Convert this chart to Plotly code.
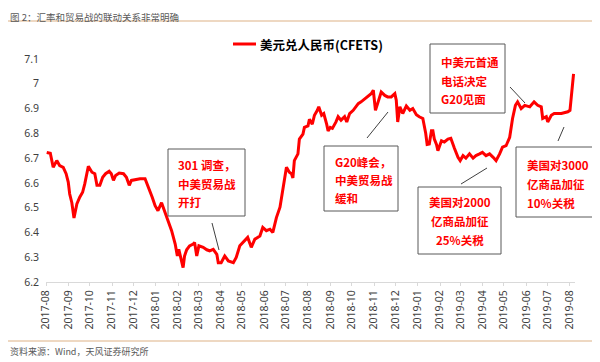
import plotly.graph_objects as go

# ---------------- data ----------------
dates = [
    "2017-08-02", "2017-08-07", "2017-08-11", "2017-08-16", "2017-08-20", "2017-08-25", "2017-08-29",
    "2017-09-01", "2017-09-03", "2017-09-06", "2017-09-09", "2017-09-13", "2017-09-17", "2017-09-21",
    "2017-09-24", "2017-09-27", "2017-09-29", "2017-10-04", "2017-10-08", "2017-10-11", "2017-10-15",
    "2017-10-19", "2017-10-23", "2017-10-28", "2017-10-31", "2017-11-03", "2017-11-06", "2017-11-11",
    "2017-11-17", "2017-11-21", "2017-11-25", "2017-11-28", "2017-12-03", "2017-12-10", "2017-12-17",
    "2017-12-20", "2017-12-24", "2017-12-27", "2017-12-31", "2018-01-04", "2018-01-09", "2018-01-14",
    "2018-01-18", "2018-01-23", "2018-01-28", "2018-01-31", "2018-02-02", "2018-02-06", "2018-02-08",
    "2018-02-10", "2018-02-13", "2018-02-17", "2018-02-22", "2018-02-24", "2018-02-27", "2018-03-02",
    "2018-03-08", "2018-03-13", "2018-03-17", "2018-03-22", "2018-03-27", "2018-03-29", "2018-04-02",
    "2018-04-07", "2018-04-12", "2018-04-19", "2018-04-23", "2018-04-28", "2018-05-05", "2018-05-09",
    "2018-05-14", "2018-05-19", "2018-05-26", "2018-05-30", "2018-06-04", "2018-06-09", "2018-06-13",
    "2018-06-18", "2018-06-23", "2018-06-27", "2018-07-02", "2018-07-06", "2018-07-09", "2018-07-11",
    "2018-07-13", "2018-07-18", "2018-07-20", "2018-07-25", "2018-07-27", "2018-08-01", "2018-08-03",
    "2018-08-07", "2018-08-10", "2018-08-14", "2018-08-16", "2018-08-20", "2018-08-23", "2018-08-27",
    "2018-08-29", "2018-09-01", "2018-09-04", "2018-09-09", "2018-09-12", "2018-09-16", "2018-09-21",
    "2018-09-24", "2018-09-28", "2018-10-03", "2018-10-10", "2018-10-14", "2018-10-19", "2018-10-23",
    "2018-10-28", "2018-10-31", "2018-11-03", "2018-11-06", "2018-11-11", "2018-11-16", "2018-11-20",
    "2018-11-25", "2018-11-30", "2018-12-02", "2018-12-04", "2018-12-07", "2018-12-11", "2018-12-16",
    "2018-12-21", "2018-12-25", "2018-12-30", "2019-01-03", "2019-01-08", "2019-01-12", "2019-01-14",
    "2019-01-17", "2019-01-20", "2019-01-22", "2019-01-24", "2019-01-27", "2019-01-29", "2019-02-03",
    "2019-02-07", "2019-02-12", "2019-02-16", "2019-02-21", "2019-02-26", "2019-03-01", "2019-03-05",
    "2019-03-09", "2019-03-14", "2019-03-19", "2019-03-23", "2019-03-28", "2019-04-01", "2019-04-06",
    "2019-04-11", "2019-04-16", "2019-04-20", "2019-04-25", "2019-04-29", "2019-05-04", "2019-05-09",
    "2019-05-13", "2019-05-17", "2019-05-20", "2019-05-25", "2019-05-30", "2019-06-06", "2019-06-12",
    "2019-06-17", "2019-06-22", "2019-06-24", "2019-06-29", "2019-07-01", "2019-07-06", "2019-07-10",
    "2019-07-20", "2019-07-29", "2019-08-01", "2019-08-04", "2019-08-06",
]
usdcny = [
    6.723, 6.720, 6.663, 6.690, 6.670, 6.663, 6.637,
    6.603, 6.555, 6.520, 6.458, 6.515, 6.542, 6.562,
    6.596, 6.637, 6.667, 6.643, 6.637, 6.590, 6.590,
    6.623, 6.637, 6.647, 6.637, 6.610, 6.630, 6.640,
    6.637, 6.623, 6.590, 6.610, 6.613, 6.617, 6.617,
    6.596, 6.570, 6.542, 6.508, 6.488, 6.520, 6.480,
    6.447, 6.407, 6.353, 6.305, 6.332, 6.278, 6.258,
    6.305, 6.330, 6.346, 6.353, 6.360, 6.305, 6.346,
    6.340, 6.330, 6.326, 6.332, 6.312, 6.278, 6.278,
    6.305, 6.285, 6.278, 6.299, 6.346, 6.366, 6.380,
    6.340, 6.373, 6.386, 6.420, 6.407, 6.413, 6.400,
    6.460, 6.502, 6.580, 6.663, 6.643, 6.637, 6.620,
    6.690, 6.717, 6.777, 6.797, 6.824, 6.830, 6.857,
    6.837, 6.873, 6.893, 6.907, 6.873, 6.880, 6.837,
    6.810, 6.824, 6.820, 6.846, 6.867, 6.853, 6.867,
    6.846, 6.880, 6.893, 6.920, 6.927, 6.940, 6.947,
    6.960, 6.974, 6.893, 6.920, 6.967, 6.953, 6.947,
    6.947, 6.960, 6.934, 6.846, 6.907, 6.880, 6.910,
    6.893, 6.900, 6.875, 6.867, 6.860, 6.800, 6.755,
    6.757, 6.810, 6.810, 6.777, 6.755, 6.730, 6.770,
    6.765, 6.777, 6.780, 6.740, 6.703, 6.690, 6.710,
    6.700, 6.717, 6.700, 6.710, 6.717, 6.723, 6.710,
    6.717, 6.703, 6.690, 6.717, 6.744, 6.750, 6.784,
    6.860, 6.913, 6.927, 6.900, 6.913, 6.907, 6.927,
    6.913, 6.907, 6.860, 6.867, 6.846, 6.873, 6.880,
    6.880, 6.887, 6.893, 6.974, 7.040,
]
series_name = "美元兑人民币(CFETS)"
tick_dates = [
    "2017-08-01", "2017-09-01", "2017-10-01", "2017-11-01", "2017-12-01",
    "2018-01-01", "2018-02-01", "2018-03-01", "2018-04-01", "2018-05-01",
    "2018-06-01", "2018-07-01", "2018-08-01", "2018-09-01", "2018-10-01",
    "2018-11-01", "2018-12-01", "2019-01-01", "2019-02-01", "2019-03-01",
    "2019-04-01", "2019-05-01", "2019-06-01", "2019-07-01", "2019-08-01",
]
tick_labels = [d[:7] for d in tick_dates]
y_ticks = [6.2, 6.3, 6.4, 6.5, 6.6, 6.7, 6.8, 6.9, 7.0, 7.1]
y_tick_labels = ["6.2", "6.3", "6.4", "6.5", "6.6", "6.7", "6.8", "6.9", "7", "7.1"]

title_text = "图 2：汇率和贸易战的联动关系非常明确"
source_text = "资料来源：Wind，天风证券研究所"
notes = [
    # (lines, box [x0, y0, x1, y1] in reference px, text x px, line y px, align)
    (["301 调查，", "中美贸易战", "开打"], [168, 149, 245, 216], 176, [165, 184, 202], "left"),
    (["G20峰会，", "中美贸易战", "缓和"], [324, 146, 398, 211], 333, [162, 180, 198], "left"),
    (["中美元首通", "电话决定", "G20见面"], [430, 44, 505, 113], 439, [62, 81, 99], "left"),
    (["美国对2000", "亿商品加征", "25%关税"], [418, 187, 501, 254], 459.5, [202, 221, 240], "center"),
    (["美国对3000", "亿商品加征", "10%关税"], [516, 147, 599, 217], 525, [165, 184, 203], "left"),
]
pointers = [
    [212, 223, 219, 250],
    [388, 112, 367, 138],
    [510, 87, 525, 103],
    [461, 184, 487, 168],
    [558, 141, 564, 127],
]

# ---------------- layout helpers (reference pixel -> paper) ----------------
# the page body has an 8px margin, so the figure is drawn 8px in from the corner
OFF = 8
W, H = 600 - OFF, 362 - OFF
L, R, T, B = 46, 575, 59, 282


def px(x):
    return (x - L) / (R - L)


def py(y):
    return (B - y) / (B - T)


RED = "#FF0000"
CJK = "Noto Sans CJK SC"

fig = go.Figure()
fig.add_trace(go.Scatter(
    x=dates, y=usdcny, mode="lines", name=series_name,
    line=dict(color=RED, width=3), showlegend=False,
))

annotations = []
shapes = []

# title / source
annotations.append(dict(xref="paper", yref="paper", x=px(OFF), y=py(OFF), text=title_text,
                        showarrow=False, xanchor="left", yanchor="top",
                        font=dict(family=CJK, size=9.5, color="#595959")))
annotations.append(dict(xref="paper", yref="paper", x=px(OFF), y=py(351), text=source_text,
                        showarrow=False, xanchor="left", yanchor="middle",
                        font=dict(family=CJK, size=9, color="#595959")))
for yy in (21, 341):
    shapes.append(dict(type="line", xref="paper", yref="paper", x0=px(OFF), x1=px(600),
                       y0=py(yy), y1=py(yy), line=dict(color="#E9CBAE", width=1.5)))

# legend-like key
shapes.append(dict(type="line", xref="paper", yref="paper", x0=px(233), x1=px(256),
                   y0=py(44), y1=py(44), line=dict(color=RED, width=3)))
annotations.append(dict(xref="paper", yref="paper", x=px(258), y=py(44), text="<b>" + series_name + "</b>",
                        showarrow=False, xanchor="left", yanchor="middle",
                        font=dict(family=CJK, size=12.5, color="#000000")))

# note boxes
for lines, box, tx, lys, align in notes:
    shapes.append(dict(type="rect", xref="paper", yref="paper",
                       x0=px(box[0]), x1=px(box[2]), y0=py(box[3]), y1=py(box[1]),
                       line=dict(color="#595959", width=1), fillcolor="white"))
    for ln, ly in zip(lines, lys):
        annotations.append(dict(xref="paper", yref="paper", x=px(tx), y=py(ly),
                                text="<b>" + ln + "</b>", showarrow=False,
                                xanchor="left" if align == "left" else "center",
                                yanchor="middle",
                                font=dict(family=CJK, size=11.5, color=RED)))
for p in pointers:
    shapes.append(dict(type="line", xref="paper", yref="paper",
                       x0=px(p[0]), y0=py(p[1]), x1=px(p[2]), y1=py(p[3]),
                       line=dict(color="#404040", width=1)))

fig.update_layout(
    width=W, height=H,
    margin=dict(l=L - OFF, r=600 - R, t=T - OFF, b=362 - B),
    paper_bgcolor="white", plot_bgcolor="white",
    annotations=annotations, shapes=shapes,
    xaxis=dict(
        type="date", range=["2017-08-01", "2019-08-08"],
        tickvals=tick_dates, ticktext=tick_labels, tickangle=-90,
        tickfont=dict(family="Noto Sans", size=10.5, color="#404040"),
        showgrid=False, zeroline=False,
        showline=True, linecolor="#D9D9D9", linewidth=1,
        ticks="outside", ticklen=3, tickcolor="#D9D9D9",
    ),
    yaxis=dict(
        range=[6.2, 7.1], tickvals=y_ticks, ticktext=y_tick_labels,
        tickfont=dict(family="Noto Sans", size=10.5, color="#404040"),
        showgrid=False, zeroline=False, showline=False, ticks="",
        ticklabelstandoff=6,
    ),
)

fig.write_html("out.html")
